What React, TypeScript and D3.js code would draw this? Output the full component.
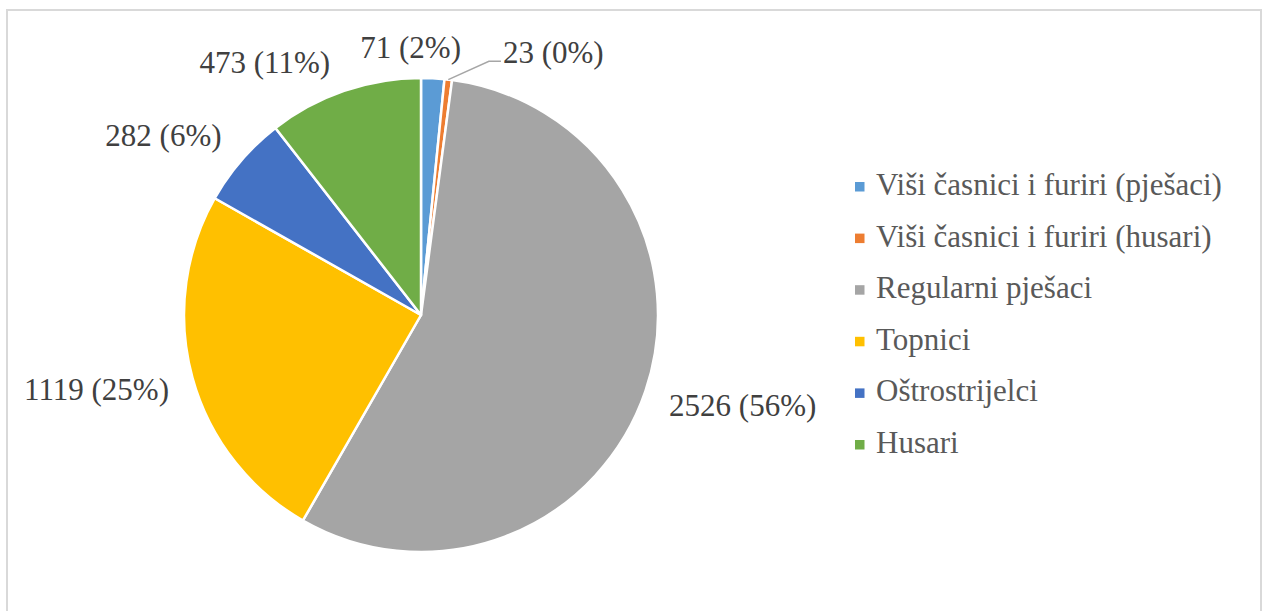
import React, { useEffect, useRef } from "react";
import * as d3 from "d3";

const categories = [
  "Viši časnici i furiri (pješaci)",
  "Viši časnici i furiri (husari)",
  "Regularni pješaci",
  "Topnici",
  "Oštrostrijelci",
  "Husari",
];
const values = [71, 23, 2526, 1119, 282, 473];
const percentLabels = ["2%", "0%", "56%", "25%", "6%", "11%"];
const colors = ["#5B9BD5", "#ED7D31", "#A5A5A5", "#FFC000", "#4472C4", "#70AD47"];

// layout nudges for data labels (Excel "best fit" placement)
const labelNudge: [number, number][] = [
  [-26, 12],
  [96, 16],
  [1, 1],
  [1, 1],
  [-13, 4],
  [-49, 13],
];
const leaderIndex = 1;

const W = 1263;
const H = 611;
const FONT = "'Liberation Serif', 'Times New Roman', serif";
const FS = 31;

export default function App() {
  const ref = useRef<SVGSVGElement | null>(null);

  useEffect(() => {
    const svg = d3.select(ref.current);
    svg.selectAll("*").remove();

    svg
      .append("rect")
      .attr("x", 7)
      .attr("y", 10)
      .attr("width", 1254)
      .attr("height", 620)
      .attr("fill", "#fff")
      .attr("stroke", "#d9d9d9")
      .attr("stroke-width", 2);

    const cx = 421;
    const cy = 315;
    const r = 237;

    const data = values.map((v, i) => ({ v, i }));
    const pie = d3
      .pie<{ v: number; i: number }>()
      .value((d) => d.v)
      .sort(null);
    const arcs = pie(data);
    const arc = d3
      .arc<d3.PieArcDatum<{ v: number; i: number }>>()
      .innerRadius(0)
      .outerRadius(r);

    const g = svg.append("g").attr("transform", `translate(${cx},${cy})`);
    g.selectAll("path")
      .data(arcs)
      .enter()
      .append("path")
      .attr("d", arc as any)
      .attr("fill", (d) => colors[d.data.i])
      .attr("stroke", "#fff")
      .attr("stroke-width", 2.5)
      .attr("stroke-linejoin", "round");

    // labels
    const gap = 28;
    const boxH = 30;
    arcs.forEach((a) => {
      const i = a.data.i;
      const mid = (a.startAngle + a.endAngle) / 2;
      const ux = Math.sin(mid);
      const uy = -Math.cos(mid);
      const t = g
        .append("text")
        .text(`${values[i]} (${percentLabels[i]})`)
        .attr("font-family", FONT)
        .attr("font-size", FS)
        .attr("fill", "#404040")
        .attr("text-anchor", "middle");
      const w = (t.node() as SVGTextElement).getComputedTextLength();
      const R = r + gap;
      const bx = R * ux + (ux * w) / 2 + labelNudge[i][0];
      const by = R * uy + (uy * boxH) / 2 + labelNudge[i][1];
      t.attr("x", bx).attr("y", by + FS * 0.33);

      if (i === leaderIndex) {
        const sx = r * ux;
        const sy = r * uy;
        const left = bx - w / 2 - 2;
        const ly = by + FS * 0.27;
        g.append("path")
          .attr("d", `M${sx},${sy}L${left - 12},${ly}L${left},${ly}`)
          .attr("fill", "none")
          .attr("stroke", "#a6a6a6")
          .attr("stroke-width", 1.5);
      }
    });

    // legend
    const legend = svg.append("g");
    const rowY = d3
      .scaleLinear()
      .domain([0, categories.length - 1])
      .range([195, 453]);
    categories.forEach((c, i) => {
      const y = rowY(i);
      legend
        .append("rect")
        .attr("x", 855)
        .attr("y", y - 13)
        .attr("width", 9.5)
        .attr("height", 9.5)
        .attr("fill", colors[i]);
      legend
        .append("text")
        .attr("x", 876)
        .attr("y", y)
        .text(c)
        .attr("font-family", FONT)
        .attr("font-size", FS)
        .attr("fill", "#595959");
    });
  }, []);

  return (
    <svg
      ref={ref}
      width={W}
      height={H}
      style={{ position: "absolute", left: 0, top: 0, display: "block" }}
    />
  );
}
